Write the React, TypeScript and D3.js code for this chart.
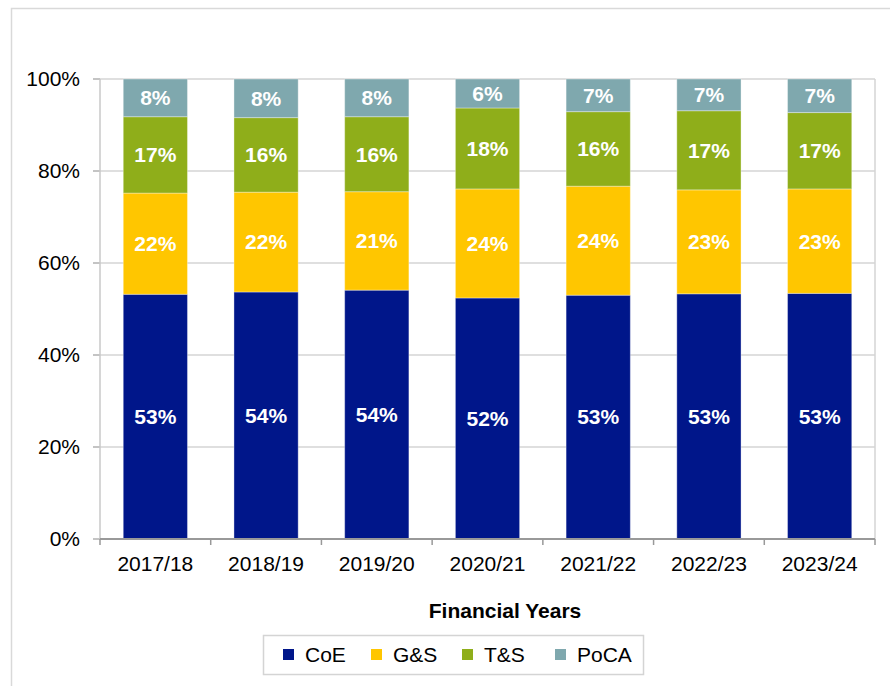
import React from "react";
import * as d3 from "d3";

const years = ["2017/18", "2018/19", "2019/20", "2020/21", "2021/22", "2022/23", "2023/24"];
const seriesNames = ["CoE", "G&S", "T&S", "PoCA"];
const coe = [53.2, 53.7, 54.1, 52.4, 53.0, 53.3, 53.4];
const gs = [22.0, 21.7, 21.4, 23.7, 23.7, 22.6, 22.7];
const ts = [16.6, 16.2, 16.3, 17.6, 16.2, 17.2, 16.6];
const poca = [8.2, 8.4, 8.2, 6.3, 7.1, 6.9, 7.3];
const yTicks = [0, 0.2, 0.4, 0.6, 0.8, 1.0];
const colors = ["#00168A", "#FFC600", "#8FAE1A", "#7FA8AE"];

const W = 890;
const H = 686;
const plot = { left: 100, right: 875, top: 79, bottom: 539 };
const FONT = "'Liberation Sans', Arial, sans-serif";
const FS = 21;

export default function App() {
  const rows = years.map((y, i) => ({
    year: y,
    "CoE": coe[i] / 100,
    "G&S": gs[i] / 100,
    "T&S": ts[i] / 100,
    "PoCA": poca[i] / 100,
  }));
  const stacked = d3.stack<any>().keys(seriesNames)(rows);
  const x = d3.scaleBand().domain(years).range([plot.left, plot.right]).paddingInner(0.42).paddingOuter(0.21);
  const y = d3.scaleLinear().domain([0, 1]).range([plot.bottom, plot.top]);
  const color = d3.scaleOrdinal<string, string>().domain(seriesNames).range(colors);
  const pct = d3.format(".0%");
  const yFmt = d3.format(".0%");
  const step = x.step();

  const legendX = [283, 371, 462, 555];

  return (
    <svg width={W} height={H} style={{ position: "absolute", left: 0, top: 0, background: "#fff" }} fontFamily={FONT}>
      <rect x={11.5} y={8.5} width={W + 20} height={H + 20} fill="#fff" stroke="#d9d9d9" strokeWidth={1.5} />
      {yTicks.map((t) => (
        <g key={t}>
          {t > 0 && (
            <line x1={plot.left} x2={plot.right} y1={y(t)} y2={y(t)} stroke="#d4d4d4" strokeWidth={1.5} />
          )}
          <line x1={plot.left - 7} x2={plot.left} y1={y(t)} y2={y(t)} stroke="#b0b0b0" strokeWidth={1.5} />
          <text x={80} y={y(t)} dy="0.35em" textAnchor="end" fontSize={FS} fill="#000">
            {yFmt(t)}
          </text>
        </g>
      ))}
      <line x1={plot.left} x2={plot.left} y1={plot.top} y2={plot.bottom} stroke="#c8c8c8" strokeWidth={1.5} />
      <line x1={plot.right} x2={plot.right} y1={plot.top} y2={plot.bottom} stroke="#d4d4d4" strokeWidth={1.5} />
      {stacked.map((s) => (
        <g key={s.key}>
          {s.map((d, i) => {
            const x0 = x(years[i])!;
            const y0 = y(d[1]);
            const y1 = y(d[0]);
            return (
              <g key={i}>
                <rect x={x0} y={y0} width={x.bandwidth()} height={y1 - y0} fill={color(s.key)} stroke="#ffffff" strokeOpacity={0.35} strokeWidth={1} />
                <text
                  x={x0 + x.bandwidth() / 2}
                  y={(y0 + y1) / 2}
                  dy="0.35em"
                  textAnchor="middle"
                  fontSize={FS}
                  fontWeight="bold"
                  fill="#fff"
                >
                  {pct(d[1] - d[0])}
                </text>
              </g>
            );
          })}
        </g>
      ))}
      <line x1={plot.left} x2={plot.right} y1={plot.bottom} y2={plot.bottom} stroke="#999" strokeWidth={2} />
      {d3.range(years.length + 1).map((i) => (
        <line key={i} x1={plot.left + i * step} x2={plot.left + i * step} y1={plot.bottom} y2={plot.bottom + 6} stroke="#999" strokeWidth={1.5} />
      ))}
      {years.map((yr) => (
        <text key={yr} x={x(yr)! + x.bandwidth() / 2} y={571} textAnchor="middle" fontSize={FS} fill="#000">
          {yr}
        </text>
      ))}
      <text x={505} y={618} textAnchor="middle" fontSize={FS} fontWeight="bold" fill="#000">
        Financial Years
      </text>
      <rect x={263.5} y={635.5} width={380} height={39} fill="#fff" stroke="#d4d4d4" strokeWidth={1.5} />
      {seriesNames.map((n, i) => (
        <g key={n}>
          <rect x={legendX[i]} y={649} width={11} height={11} fill={colors[i]} />
          <text x={legendX[i] + 22} y={662} fontSize={FS} fill="#000">
            {n}
          </text>
        </g>
      ))}
    </svg>
  );
}
